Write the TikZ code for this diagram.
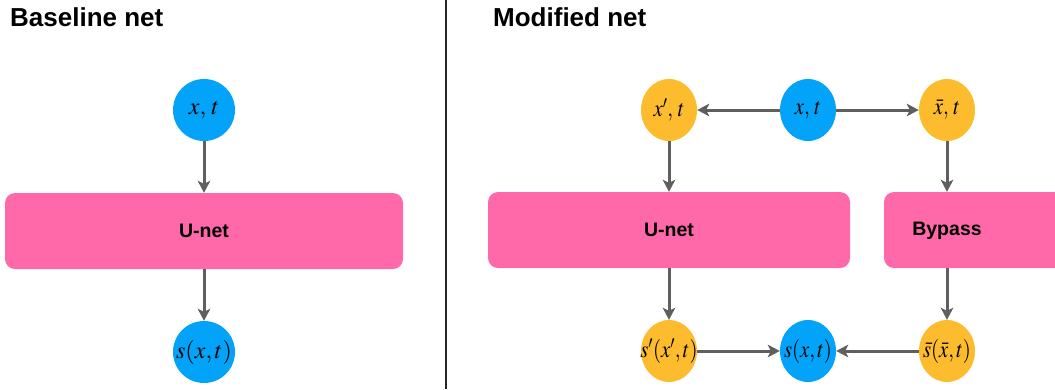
\documentclass[tikz,border=0pt]{standalone}
\usepackage{mathptmx}
\usepackage[no-math]{fontspec}
\setsansfont{Liberation Sans}
\usepackage{graphicx}
\usetikzlibrary{arrows.meta,shapes.geometric}
\definecolor{cblue}{HTML}{02A3F8}
\definecolor{corange}{HTML}{FCBC2E}
\definecolor{cpink}{HTML}{FF69A9}
\definecolor{cgray}{HTML}{5F5F5F}
\newcommand\leftmath[1]{\makebox[0pt]{$#1$}}
\newcommand\rightmath[1]{\makebox[0pt]{\scalebox{0.86}[1]{$#1$}}}
\begin{document}
\begin{tikzpicture}[x=1pt,y=-1pt,
  mathfont/.style={font=\fontsize{24}{27}\selectfont},
  lball/.style={circle,fill=cblue,minimum size=62pt,inner sep=0pt,mathfont},
  rball/.style={ellipse,fill=#1,minimum width=56pt,minimum height=62pt,inner sep=0pt,mathfont},
  netbox/.style={fill=cpink,rounded corners=10pt,inner sep=0pt,minimum height=76pt,font=\sffamily\bfseries\fontsize{19.5}{22}\selectfont},
  boxlabel/.style={font=\sffamily\bfseries\fontsize{19.5}{22}\selectfont,inner sep=0pt},
  title/.style={anchor=base west,inner sep=0pt,font=\sffamily\bfseries\fontsize{26}{30}\selectfont},
  arr/.style={draw=cgray,line width=3pt,-{Stealth[length=12pt,width=12.5pt,inset=3pt]}}
]
\useasboundingbox (0,0) rectangle (1055,389);
\clip (0,0) rectangle (1055,389);

% divider
\coordinate (dtop) at (446,0);
\coordinate (dbot) at (446,389);
\draw[line width=1.3pt,black!85] (dtop) -- (dbot);

% left panel
\node[title] (t1) at (10,26) {Baseline net};
\node[lball] (a) at (204,110) {\leftmath{x,\,t}};
\node[netbox,minimum width=398pt] (u1) at (204,231) {U-net};
\node[lball] (b) at (204,352) {\leftmath{s(x,t)}};
\draw[arr] (a) -- (u1);
\draw[arr] (u1) -- (b);

% right panel
\node[title] (t2) at (493,26) {Modified net};
\node[rball=corange] (xp) at (669,110) {\rightmath{x',\,t}};
\node[rball=cblue] (xt) at (808,110) {\rightmath{x,\,t}};
\node[rball=corange] (xb) at (947,110) {\rightmath{\bar{x},\,t}};
\node[netbox,minimum width=362pt] (u2) at (669,230) {U-net};
\node[netbox,minimum width=200pt] (by) at (984,230) {};
\node[boxlabel] (byl) at (947,231) {Bypass};
\node[rball=corange] (sp) at (669,351) {\rightmath{s'(x',t)}};
\node[rball=cblue] (s) at (808,351) {\rightmath{s(x,t)}};
\node[rball=corange] (sb) at (947,351) {\rightmath{\bar{s}(\bar{x},t)}};

\draw[arr] (xt) -- (xp);
\draw[arr] (xt) -- (xb);
\draw[arr] (xp) -- (xp |- u2.north);
\draw[arr] (xp |- u2.south) -- (sp);
\draw[arr] (xb) -- (xb |- by.north);
\draw[arr] (xb |- by.south) -- (sb);
\draw[arr] (sp) -- (s);
\draw[arr] (sb) -- (s);
\end{tikzpicture}
\end{document}
